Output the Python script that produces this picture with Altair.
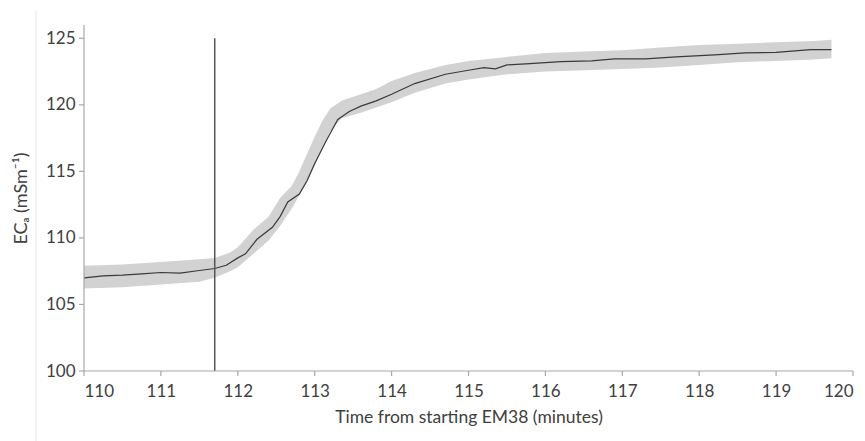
import altair as alt
import pandas as pd

# Raw EM38 readings: extent of the scatter cloud (lower / upper ECa) over time
cloud_time = [110.0, 110.5, 111.0, 111.5, 111.7, 111.9, 112.0, 112.2, 112.4, 112.55,
              112.7, 112.8, 112.9, 113.0, 113.1, 113.2, 113.35, 113.6, 113.8, 114.0,
              114.3, 114.7, 115.0, 115.5, 116.0, 116.5, 117.0, 117.5, 118.0, 118.5,
              119.0, 119.5, 119.72]
cloud_low = [106.2, 106.3, 106.5, 106.7, 107.0, 107.5, 107.8, 108.8, 109.8, 110.9,
             112.2, 113.2, 114.2, 115.4, 116.7, 118.0, 119.0, 119.4, 119.8, 120.2,
             120.9, 121.6, 121.9, 122.3, 122.5, 122.6, 122.7, 122.8, 123.0, 123.2,
             123.3, 123.4, 123.5]
cloud_high = [107.9, 108.0, 108.2, 108.4, 108.5, 108.9, 109.3, 110.6, 111.6, 113.0,
              113.9, 115.0, 116.3, 117.6, 118.8, 119.7, 120.3, 120.8, 121.2, 121.8,
              122.4, 123.0, 123.3, 123.6, 123.9, 124.0, 124.1, 124.3, 124.5, 124.6,
              124.7, 124.8, 124.9]

# Moving-average trace of the readings
smooth_time = [110.0, 110.25, 110.5, 110.75, 111.0, 111.25, 111.5, 111.7, 111.85, 112.0,
               112.1, 112.25, 112.45, 112.55, 112.65, 112.8, 112.9, 113.0, 113.15, 113.3,
               113.45, 113.6, 113.8, 114.0, 114.3, 114.7, 115.0, 115.2, 115.35, 115.5,
               115.8, 116.2, 116.6, 116.9, 117.3, 117.7, 118.2, 118.6, 119.0, 119.45,
               119.72]
smooth_eca = [107.0, 107.15, 107.2, 107.3, 107.4, 107.35, 107.55, 107.7, 107.95, 108.5,
              108.8, 109.9, 110.8, 111.6, 112.7, 113.3, 114.3, 115.6, 117.3, 118.9,
              119.5, 119.9, 120.3, 120.8, 121.6, 122.3, 122.6, 122.8, 122.7, 123.0,
              123.1, 123.25, 123.3, 123.45, 123.45, 123.6, 123.75, 123.9, 123.95, 124.15,
              124.15]

# Time marker
marker_time = [111.7]
marker_low = [100]
marker_high = [125]

x_range = [110, 120]
y_range = [100, 126]
x_ticks = list(range(110, 121))
y_ticks = [100, 105, 110, 115, 120, 125]

FONT = "Lato"
TEXT = "#404040"
AXIS_LINE = "#a8a8a8"

cloud_df = pd.DataFrame({"t": cloud_time, "lo": cloud_low, "hi": cloud_high})
smooth_df = pd.DataFrame({"t": smooth_time, "eca": smooth_eca})
marker_df = pd.DataFrame({"t": marker_time, "lo": marker_low, "hi": marker_high})
x_line_df = pd.DataFrame({"t": [x_range[0]], "t2": [x_range[1]], "v": [y_range[0]]})
y_line_df = pd.DataFrame({"t": [x_range[0]], "v": [y_range[0]], "v2": [y_range[1]]})
x_tick_df = pd.DataFrame({"t": x_ticks})
y_tick_df = pd.DataFrame({"v": y_ticks})

x_scale = alt.Scale(domain=x_range, nice=False, zero=False)
y_scale = alt.Scale(domain=y_range, nice=False, zero=False)

x_axis = alt.Axis(values=x_ticks, format="d", title="Time from starting EM38 (minutes)",
                  grid=False, domain=False, ticks=False,
                  labelFontSize=17, titleFontSize=17.5, labelPadding=12, titlePadding=9,
                  labelColor=TEXT, titleColor=TEXT, titleFontWeight="normal",
                  labelFont=FONT, titleFont=FONT)
y_axis = alt.Axis(values=y_ticks, format="d", title="ECₐ  (mSm⁻¹)",
                  grid=False, domain=False, ticks=False,
                  labelFontSize=17, titleFontSize=18, labelPadding=9, titlePadding=15,
                  labelColor=TEXT, titleColor=TEXT, titleFontWeight="normal",
                  labelFont=FONT, titleFont=FONT)

X = alt.X("t:Q", scale=x_scale, axis=x_axis)

cloud = alt.Chart(cloud_df).mark_area(color="#d2d2d2").encode(
    x=X,
    y=alt.Y("lo:Q", scale=y_scale, axis=y_axis),
    y2="hi:Q",
)

trace = alt.Chart(smooth_df).mark_line(color="#3a3a3a", strokeWidth=1.2).encode(
    x=X, y=alt.Y("eca:Q", scale=y_scale, axis=y_axis),
)

marker = alt.Chart(marker_df).mark_rule(color="#555555", strokeWidth=1.5).encode(
    x=X, y=alt.Y("lo:Q", scale=y_scale, axis=y_axis), y2="hi:Q",
)

# Axis lines and outward tick marks
x_line = alt.Chart(x_line_df).mark_rule(color=AXIS_LINE, strokeWidth=1.2).encode(
    x=X, x2="t2:Q", y=alt.Y("v:Q", scale=y_scale, axis=y_axis),
)
y_line = alt.Chart(y_line_df).mark_rule(color=AXIS_LINE, strokeWidth=1.2).encode(
    x=X, y=alt.Y("v:Q", scale=y_scale, axis=y_axis), y2="v2:Q",
)
x_tick_marks = alt.Chart(x_tick_df).mark_rule(color=AXIS_LINE, strokeWidth=1.2).encode(
    x=X, y=alt.value(346), y2=alt.value(351),
)
y_tick_marks = alt.Chart(y_tick_df).mark_rule(color=AXIS_LINE, strokeWidth=1.2).encode(
    y=alt.Y("v:Q", scale=y_scale, axis=y_axis), x=alt.value(-5), x2=alt.value(0),
)

frame = alt.Chart(marker_df).mark_rule(color="#e8e8e8", strokeWidth=1).encode(
    x=alt.value(-48), y=alt.value(-15), y2=alt.value(416)
)

chart = alt.layer(
    cloud, trace, marker, x_line, y_line, x_tick_marks, y_tick_marks, frame
).properties(
    width=769, height=346,
    background="white",
    autosize=alt.AutoSizeParams(type="none"),
    padding={"left": 84, "top": 25, "right": 12, "bottom": 70},
).configure_view(stroke=None)

chart.save("out.html", embed_options={"renderer": "svg", "actions": False})
